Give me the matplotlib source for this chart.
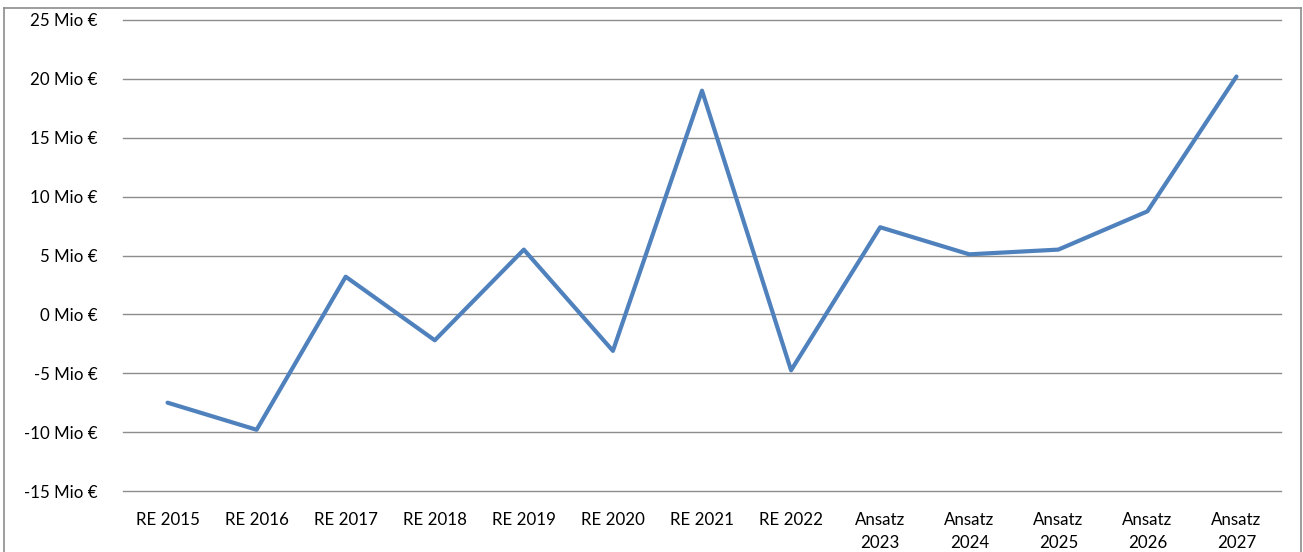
import matplotlib
matplotlib.use("Agg")
import matplotlib.pyplot as plt
from matplotlib.lines import Line2D
from matplotlib.ticker import FuncFormatter, MultipleLocator

categories = ["RE 2015", "RE 2016", "RE 2017", "RE 2018", "RE 2019", "RE 2020",
              "RE 2021", "RE 2022", "Ansatz\n2023", "Ansatz\n2024", "Ansatz\n2025",
              "Ansatz\n2026", "Ansatz\n2027"]
values = [-7.5, -9.8, 3.2, -2.2, 5.5, -3.1, 19.0, -4.75, 7.4, 5.1, 5.5, 8.75, 20.2]

plt.rcParams["font.family"] = ["Lato", "DejaVu Sans"]

W, H = 1303, 552
fig = plt.figure(figsize=(W / 100, H / 100), dpi=100)
ax = fig.add_axes([123 / W, 1 - 491 / H, (1281 - 123) / W, (491 - 20) / H])

x = list(range(len(categories)))
ax.plot(x, values, color="#4F81BD", linewidth=3.0, solid_capstyle="round",
        solid_joinstyle="round", zorder=3)

ax.set_xlim(-0.5, len(categories) - 0.5)
ax.set_ylim(-15, 25)
ax.yaxis.set_major_locator(MultipleLocator(5))
ax.yaxis.set_major_formatter(FuncFormatter(lambda v, p: f"{v:.0f} Mio €"))
ax.set_xticks(x)
ax.set_xticklabels(categories, va="top", ha="center", linespacing=1.55)

ax.grid(axis="y", color="#8C8C8C", linewidth=1.0)
for gl in ax.yaxis.get_gridlines():
    gl.set_clip_on(False)
ax.set_axisbelow(True)
for s in ax.spines.values():
    s.set_visible(False)
ax.tick_params(axis="both", length=0, labelsize=12.2, colors="black")
ax.tick_params(axis="y", pad=18)
ax.tick_params(axis="x", pad=15)

# chart area border (open at the bottom)
bc = "#8C8C8C"
fig.add_artist(Line2D([3.5 / W, 3.5 / W], [0, 1 - 7.5 / H], transform=fig.transFigure, color=bc, lw=1.2))
fig.add_artist(Line2D([3.5 / W, 1300.5 / W], [1 - 7.5 / H, 1 - 7.5 / H], transform=fig.transFigure, color=bc, lw=1.2))
fig.add_artist(Line2D([1300.5 / W, 1300.5 / W], [0, 1 - 7.5 / H], transform=fig.transFigure, color=bc, lw=1.2))

fig.savefig("out.png", dpi=100, facecolor="white")
